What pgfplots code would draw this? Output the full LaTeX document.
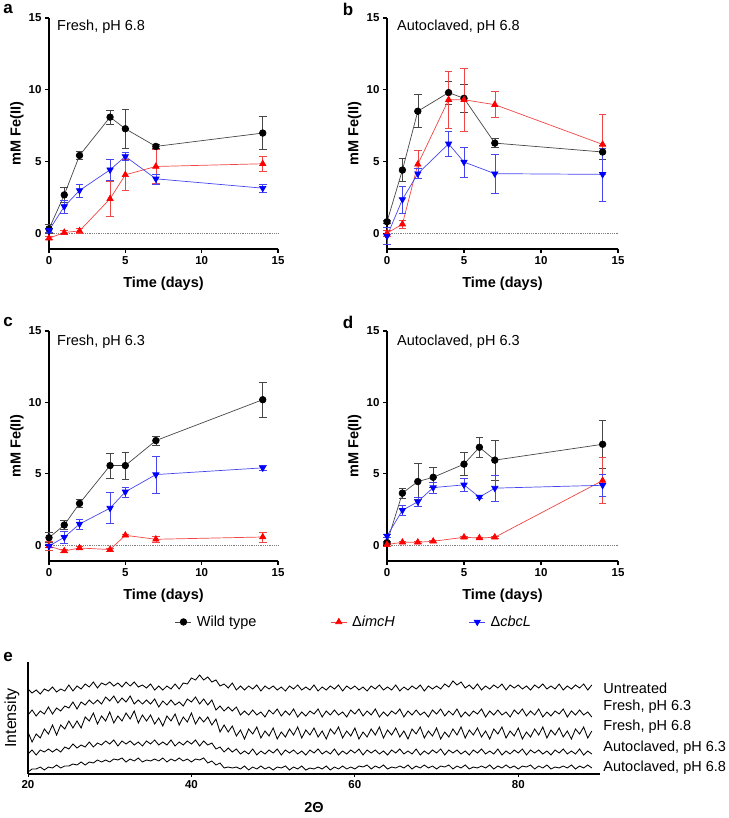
\documentclass[border=0pt]{standalone}
\usepackage{fontspec}
\setmainfont{Liberation Sans}
\usepackage{pgfplots}
\usepackage{pgfplotstable}
\pgfplotsset{compat=1.18}

\pgfplotstableread{
x U F63 F68 A63 A68
20.0 85 59 42 20 2
20.5 81 64 32 24 5
21.0 84 58 40 19 5
21.5 80 63 36 24 7
22.0 85 60 45 22 4
22.5 83 67 40 25 7
23.0 87 60 49 22 6
23.5 82 66 39 25 9
24.0 85 63 49 22 6
24.5 83 68 45 27 8
25.0 89 66 53 25 8
25.5 83 72 46 30 10
26.0 88 65 53 26 9
26.5 85 72 46 29 12
27.0 90 69 57 27 9
27.5 87 74 53 32 12
28.0 92 70 61 27 11
28.5 86 74 50 31 14
29.0 91 70 58 29 12
29.5 89 77 53 33 14
30.0 92 73 62 30 12
30.5 88 78 51 34 15
31.0 91 71 58 28 14
31.5 87 76 53 33 16
32.0 92 72 61 30 12
32.5 88 78 55 33 15
33.0 92 70 63 29 13
33.5 87 74 51 32 16
34.0 89 70 59 28 12
34.5 86 74 53 33 14
35.0 90 70 59 30 13
35.5 84 75 50 34 15
36.0 88 67 56 29 13
36.5 84 73 48 32 16
37.0 88 69 58 29 12
37.5 85 74 53 34 15
38.0 90 69 60 28 13
38.5 85 72 49 32 16
39.0 91 68 57 29 13
39.5 90 75 52 33 15
40.0 96 72 61 30 12
40.5 94 77 50 34 15
41.0 99 70 57 28 14
41.5 94 75 52 33 16
42.0 97 69 57 29 11
42.5 92 74 49 31 13
43.0 94 64 55 25 9
43.5 88 68 42 27 11
44.0 90 63 49 22 6
44.5 86 67 42 26 7
45.0 91 63 48 22 6
45.5 84 67 38 25 7
46.0 88 59 44 20 5
46.5 84 63 35 23 8
47.0 88 59 45 20 4
47.5 85 64 40 25 7
48.0 89 59 47 19 5
48.5 83 62 36 23 8
49.0 88 57 43 20 5
49.5 85 64 38 24 7
50.0 88 60 46 21 4
50.5 84 65 35 25 7
51.0 87 58 42 19 6
51.5 83 63 37 24 8
52.0 88 59 45 21 4
52.5 85 65 39 24 7
53.0 89 57 47 20 5
53.5 84 62 36 23 8
54.0 87 58 44 19 4
54.5 84 63 39 24 6
55.0 89 60 46 21 5
55.5 83 65 37 25 7
56.0 87 57 43 20 5
56.5 84 63 35 23 8
57.0 88 59 45 20 4
57.5 85 64 40 25 7
58.0 89 59 47 19 5
58.5 83 62 36 23 8
59.0 88 57 43 20 5
59.5 85 64 38 24 7
60.0 88 60 46 21 5
60.5 84 65 35 25 8
61.0 87 58 42 19 7
61.5 83 63 37 24 9
62.0 88 59 45 21 5
62.5 85 65 39 24 8
63.0 89 57 47 20 6
63.5 84 62 36 23 9
64.0 87 58 44 19 5
64.5 84 63 39 24 7
65.0 89 60 46 21 6
65.5 83 65 37 25 8
66.0 87 57 43 20 6
66.5 84 63 35 23 9
67.0 88 59 45 20 5
67.5 85 64 40 25 8
68.0 89 59 47 19 6
68.5 83 62 36 23 9
69.0 88 57 43 20 6
69.5 85 64 38 24 8
70.0 88 60 46 21 5
70.5 85 65 35 25 8
71.0 90 58 42 19 7
71.5 87 63 37 24 9
72.0 93 59 45 21 5
72.5 89 65 39 24 8
73.0 92 57 47 20 6
73.5 86 62 36 23 9
74.0 89 58 44 19 5
74.5 85 63 39 24 7
75.0 90 60 46 21 6
75.5 84 65 37 25 8
76.0 88 57 43 20 6
76.5 85 63 35 23 9
77.0 89 59 45 20 5
77.5 86 64 40 25 8
78.0 90 59 47 19 6
78.5 84 62 36 23 9
79.0 89 57 43 20 6
79.5 86 64 38 24 8
80.0 89 60 46 21 5
80.5 85 65 35 25 8
81.0 88 58 42 19 7
81.5 84 63 37 24 9
82.0 89 59 45 21 5
82.5 86 65 39 24 8
83.0 90 57 47 20 6
83.5 85 62 36 23 9
84.0 88 58 44 19 5
84.5 85 63 39 24 7
85.0 90 60 46 21 6
85.5 84 65 37 25 8
86.0 88 57 43 20 6
86.5 85 63 35 23 9
87.0 89 59 45 20 5
87.5 86 64 40 25 8
88.0 90 59 47 19 6
88.5 84 62 36 23 9
89.0 89 57 43 20 6
}\xrd

\definecolor{wtline}{RGB}{70,70,70}
\definecolor{rline}{RGB}{240,70,70}
\definecolor{bline}{RGB}{70,70,240}

\pgfplotsset{
 panel/.style={
  scale only axis, width=229pt, height=231pt,
  xmin=0, xmax=15, ymin=-1.1, ymax=15,
  axis lines*=left, axis line style={line width=1.5pt,-},
  xtick={0,5,10,15}, ytick={0,5,10,15},
  tick align=outside, major tick length=4pt,
  tick style={line width=1.2pt, black},
  ticklabel style={font=\bfseries\fontsize{11.5}{12}\selectfont},
  /pgf/number format/assume math mode=true,
  xlabel={Time (days)}, ylabel={mM Fe(II)},
  label style={font=\bfseries\fontsize{14.5}{16}\selectfont},
  xlabel style={at={(axis description cs:0.5,-0.152)},anchor=center},
  ylabel style={at={(axis description cs:-0.14,0.5)},anchor=center},
  clip=false,
 },
 zero/.style={forget plot, gray, densely dotted, line width=0.8pt},
 wt/.style={draw=wtline, line width=0.7pt, mark=*, mark size=3.3pt,
  mark options={solid, fill=black, draw=black},
  error bars/y dir=both, error bars/y explicit,
  error bars/error bar style={line width=0.6pt, wtline},
  error bars/error mark options={rotate=90, mark size=3.8pt, line width=0.6pt, wtline}},
 imc/.style={draw=rline, line width=0.7pt, mark=triangle*, mark size=3.6pt,
  mark options={solid, fill=red, draw=red},
  error bars/y dir=both, error bars/y explicit,
  error bars/error bar style={line width=0.6pt, rline},
  error bars/error mark options={rotate=90, mark size=3.8pt, line width=0.6pt, rline}},
 cbc/.style={draw=bline, line width=0.7pt, mark=triangle*, mark size=3.6pt,
  mark options={solid, fill=blue, draw=blue, rotate=180},
  error bars/y dir=both, error bars/y explicit,
  error bars/error bar style={line width=0.6pt, bline},
  error bars/error mark options={rotate=90, mark size=3.8pt, line width=0.6pt, bline}},
}

\begin{document}
\begin{tikzpicture}[x=1pt,y=1pt]
\useasboundingbox (0,0) rectangle (728,818);

% Panel a
\begin{axis}[panel, at={(49pt,569pt)}, anchor=south west]
\addplot[zero] coordinates {(0,0) (15,0)};
\addplot[wt] table[x=t,y=v,y error=e,row sep=\\]{t v e\\0 0.3 0.3\\1 2.67 0.5\\2 5.42 0.3\\4 8.09 0.5\\5 7.28 1.35\\7 6.05 0.15\\14 6.98 1.15\\};
\addplot[imc] table[x=t,y=v,y error=e,row sep=\\]{t v e\\0 -0.35 0.1\\1 0.05 0.15\\2 0.16 0.15\\4 2.4 1.2\\5 4.07 1.1\\7 4.65 1.2\\14 4.84 0.55\\};
\addplot[cbc] table[x=t,y=v,y error=e,row sep=\\]{t v e\\0 0.2 0.15\\1 1.86 0.45\\2 2.98 0.45\\4 4.42 0.7\\5 5.35 0.3\\7 3.79 0.35\\14 3.14 0.3\\};
\end{axis}

% Panel b
\begin{axis}[panel, width=231pt, at={(387pt,569pt)}, anchor=south west]
\addplot[zero] coordinates {(0,0) (15,0)};
\addplot[wt] table[x=t,y=v,y error=e,row sep=\\]{t v e\\0 0.8 0.1\\1 4.4 0.8\\2 8.5 1.15\\4 9.8 0.8\\5 9.4 0.95\\7 6.28 0.3\\14 5.66 0.5\\};
\addplot[imc] table[x=t,y=v,y error=e,row sep=\\]{t v e\\0 0 0.2\\1 0.63 0.3\\2 4.8 1.0\\4 9.3 2.0\\5 9.3 2.2\\7 8.96 0.9\\14 6.19 2.1\\};
\addplot[cbc] table[x=t,y=v,y error=e,row sep=\\]{t v e\\0 -0.2 0.6\\1 2.35 0.95\\2 4.15 0.35\\4 6.23 0.9\\5 4.96 1.03\\7 4.15 1.38\\14 4.1 1.85\\};
\end{axis}

% Panel c
\begin{axis}[panel, height=230pt, at={(49pt,257pt)}, anchor=south west,
  legend columns=3,
  legend style={at={(axis description cs:1.332,-0.265)}, anchor=center, draw=none, fill=none,
    font=\fontsize{14.5}{16}\selectfont,
    /tikz/every odd column/.append style={column sep=3pt},
    /tikz/every even column/.append style={column sep=72pt}},
  legend image code/.code={\draw[mark repeat=2,mark phase=2,#1] plot coordinates {(0pt,0pt) (8pt,0pt) (16pt,0pt)};},
  legend entries={Wild type, Δ\textit{imcH}, Δ\textit{cbcL}}]
\addplot[zero] coordinates {(0,0) (15,0)};
\addplot[wt] table[x=t,y=v,y error=e,row sep=\\]{t v e\\0 0.53 0.35\\1 1.42 0.3\\2 2.93 0.3\\4 5.58 0.87\\5 5.58 0.95\\7 7.33 0.3\\14 10.19 1.2\\};
\addplot[imc] table[x=t,y=v,y error=e,row sep=\\]{t v e\\0 -0.05 0.3\\1 -0.4 0.1\\2 -0.19 0.1\\4 -0.3 0.1\\5 0.7 0.1\\7 0.42 0.2\\14 0.58 0.35\\};
\addplot[cbc] table[x=t,y=v,y error=e,row sep=\\]{t v e\\0 -0.05 0.1\\1 0.56 0.4\\2 1.49 0.35\\4 2.6 1.08\\5 3.74 0.35\\7 4.95 1.28\\14 5.42 0.15\\};
\end{axis}

% Panel d
\begin{axis}[panel, width=231pt, height=230pt, at={(387pt,257pt)}, anchor=south west]
\addplot[zero] coordinates {(0,0) (15,0)};
\addplot[wt] table[x=t,y=v,y error=e,row sep=\\]{t v e\\0 0.19 0.1\\1 3.65 0.35\\2 4.46 1.27\\3 4.76 0.67\\5 5.68 0.8\\6 6.86 0.68\\7 5.96 1.4\\14 7.07 1.65\\};
\addplot[imc] table[x=t,y=v,y error=e,row sep=\\]{t v e\\0 0.05 0.1\\1 0.21 0.05\\2 0.21 0.05\\3 0.28 0.05\\5 0.56 0.05\\6 0.51 0.05\\7 0.56 0.05\\14 4.53 1.6\\};
\addplot[cbc] table[x=t,y=v,y error=e,row sep=\\]{t v e\\0 0.65 0.1\\1 2.45 0.35\\2 3.05 0.3\\3 4.04 0.4\\5 4.23 0.45\\6 3.37 0.1\\7 4.0 0.9\\14 4.2 0.8\\};
\end{axis}

% Panel e
\begin{axis}[scale only axis, width=572pt, height=112pt, at={(28pt,44pt)}, anchor=south west,
  xmin=20, xmax=90, ymin=0, ymax=112,
  axis lines*=left, axis line style={line width=1.2pt,-},
  xtick={20,40,60,80}, ytick=\empty,
  tick align=outside, major tick length=3pt, tick style={line width=1pt, black},
  ticklabel style={font=\bfseries\fontsize{11.5}{12}\selectfont},
  /pgf/number format/assume math mode=true,
  xlabel={2Θ}, ylabel={Intensity},
  xlabel style={font=\bfseries\fontsize{14.5}{16}\selectfont, at={(axis description cs:0.5,-0.295)}, anchor=center},
  ylabel style={font=\fontsize{16}{18}\selectfont, at={(axis description cs:-0.028,0.5)}, anchor=center},
  clip=false]
\addplot[black, line width=0.85pt] table[x=x,y=U] {\xrd};
\addplot[black, line width=0.85pt] table[x=x,y=F63] {\xrd};
\addplot[black, line width=0.85pt] table[x=x,y=F68] {\xrd};
\addplot[black, line width=0.85pt] table[x=x,y=A63] {\xrd};
\addplot[black, line width=0.85pt] table[x=x,y=A68] {\xrd};
\begin{scope}[every node/.style={anchor=west, font=\fontsize{14.5}{16}\selectfont, inner sep=0pt}]
\node at (axis cs:90.4,86) {Untreated};
\node at (axis cs:90.4,67) {Fresh, pH 6.3};
\node at (axis cs:90.4,47) {Fresh, pH 6.8};
\node at (axis cs:90.4,26) {Autoclaved, pH 6.3};
\node at (axis cs:90.4,6) {Autoclaved, pH 6.8};
\end{scope}
\end{axis}

% panel letters and annotations
\begin{scope}[every node/.style={font=\bfseries\fontsize{17}{18}\selectfont, inner sep=0pt}]
\node at (8,809) {a};
\node at (348,809) {b};
\node at (8,496) {c};
\node at (348,496) {d};
\node at (8,161) {e};
\end{scope}
\begin{scope}[every node/.style={anchor=west, font=\fontsize{14.5}{16}\selectfont, inner sep=0pt}]
\node at (57,791) {Fresh, pH 6.8};
\node at (397,791) {Autoclaved, pH 6.8};
\node at (57,476) {Fresh, pH 6.3};
\node at (397,476) {Autoclaved, pH 6.3};
\end{scope}
\end{tikzpicture}
\end{document}
